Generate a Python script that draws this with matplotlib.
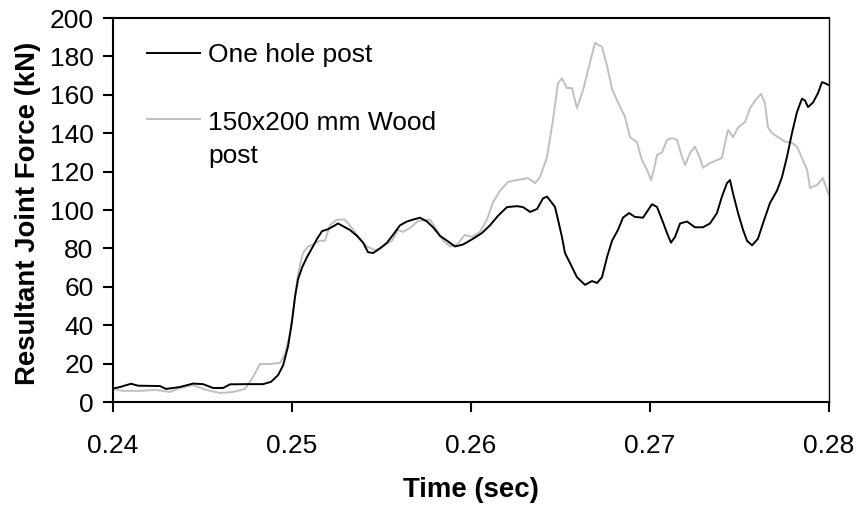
import matplotlib
matplotlib.use("Agg")
import matplotlib.pyplot as plt

plt.rcParams['font.family'] = ['Liberation Sans', 'DejaVu Sans']

# One hole post (black)
t_one = [0.24000, 0.24039, 0.24101, 0.24140, 0.24263, 0.24296, 0.24374, 0.24447, 0.24503, 0.24559,
         0.24615, 0.24654, 0.24743, 0.24838, 0.24883, 0.24922, 0.24950, 0.24978, 0.25000, 0.25017,
         0.25034, 0.25056, 0.25084, 0.25117, 0.25140, 0.25168, 0.25201, 0.25240, 0.25257, 0.25296,
         0.25324, 0.25363, 0.25397, 0.25425, 0.25453, 0.25492, 0.25531, 0.25564, 0.25603, 0.25642,
         0.25676, 0.25715, 0.25754, 0.25788, 0.25827, 0.25866, 0.25911, 0.25955, 0.26011, 0.26061,
         0.26106, 0.26151, 0.26201, 0.26257, 0.26291, 0.26330, 0.26369, 0.26402, 0.26425, 0.26469,
         0.26486, 0.26508, 0.26525, 0.26553, 0.26592, 0.26637, 0.26676, 0.26704, 0.26732, 0.26760,
         0.26788, 0.26821, 0.26849, 0.26883, 0.26916, 0.26961, 0.27011, 0.27039, 0.27067, 0.27095,
         0.27117, 0.27140, 0.27168, 0.27207, 0.27251, 0.27296, 0.27335, 0.27374, 0.27402, 0.27430,
         0.27447, 0.27464, 0.27492, 0.27520, 0.27542, 0.27570, 0.27603, 0.27631, 0.27670, 0.27709,
         0.27737, 0.27765, 0.27793, 0.27821, 0.27849, 0.27866, 0.27883, 0.27911, 0.27939, 0.27961,
         0.27978, 0.28000]
f_one = [7, 7.8, 9.5, 8.5, 8.3, 6.8, 7.8, 9.6, 9.3, 7.3,
         7.3, 9.2, 9.3, 9.3, 10.5, 14, 19, 29, 42, 55,
         64, 70, 75.5, 81, 85, 89, 90, 92, 93, 91,
         89.6, 86.5, 83, 78, 77.6, 80, 83, 87, 92, 94,
         95, 96, 94, 91, 86.5, 84, 81, 82, 85, 88,
         92, 97, 101.5, 102, 101.5, 99, 100.5, 106, 107, 101.6,
         95, 86, 77.6, 72.4, 65, 61, 63, 62, 65, 75.5,
         84, 89.6, 96, 98.4, 96.4, 96, 103, 101.6, 95, 88,
         83, 86, 93, 94, 91, 91, 93, 98.4, 107, 114,
         115.6, 108.6, 98.4, 89.6, 84, 81.6, 85, 93, 103.6, 110,
         117, 127.6, 140, 151, 158, 157, 153.6, 156, 161, 166.6,
         166, 165]

# 150x200 mm Wood post (grey)
t_wood = [0.24000, 0.24056, 0.24151, 0.24240, 0.24318, 0.24374, 0.24447, 0.24520, 0.24598, 0.24670,
          0.24737, 0.24782, 0.24821, 0.24877, 0.24933, 0.24961, 0.24989, 0.25011, 0.25034, 0.25061,
          0.25089, 0.25117, 0.25156, 0.25184, 0.25212, 0.25251, 0.25296, 0.25335, 0.25380, 0.25419,
          0.25464, 0.25508, 0.25559, 0.25592, 0.25620, 0.25659, 0.25704, 0.25771, 0.25810, 0.25844,
          0.25883, 0.25922, 0.25966, 0.26006, 0.26050, 0.26089, 0.26123, 0.26162, 0.26207, 0.26257,
          0.26318, 0.26358, 0.26385, 0.26425, 0.26458, 0.26486, 0.26508, 0.26536, 0.26564, 0.26592,
          0.26626, 0.26665, 0.26693, 0.26732, 0.26760, 0.26788, 0.26821, 0.26860, 0.26888, 0.26927,
          0.26955, 0.26983, 0.27006, 0.27022, 0.27039, 0.27067, 0.27095, 0.27123, 0.27151, 0.27179,
          0.27196, 0.27223, 0.27251, 0.27279, 0.27296, 0.27335, 0.27374, 0.27402, 0.27419, 0.27436,
          0.27464, 0.27492, 0.27531, 0.27559, 0.27587, 0.27620, 0.27642, 0.27659, 0.27682, 0.27715,
          0.27754, 0.27793, 0.27821, 0.27849, 0.27877, 0.27894, 0.27933, 0.27966, 0.27994, 0.28000]
f_wood = [6.8, 5.8, 5.8, 6.3, 5.2, 7.3, 8.8, 6.3, 4.7, 5.2,
          6.8, 13, 19.8, 19.8, 20.4, 25, 36, 50, 67, 77.6,
          81, 82, 84, 84, 92, 95, 95, 90.6, 85, 81,
          79, 81, 84, 89.6, 88.6, 90.6, 94.3, 95, 89.6, 84,
          81, 82, 87, 86, 88.6, 95, 104, 110, 114.6, 115.6,
          116.6, 114, 117, 127.6, 147, 166, 168.6, 163.5, 163.5, 153,
          162.5, 177, 187, 185, 175, 163, 156, 148.6, 138, 135.3,
          126, 121, 115.6, 121, 128.6, 130, 136.5, 137.5, 136.5, 127.6,
          123.4, 129.6, 133, 127, 122, 124.5, 126, 127, 135, 141.7,
          138, 143, 145.8, 153, 157, 160.5, 155.7, 143, 140, 138,
          135.6, 135, 133, 127, 121, 111.5, 113, 116.6, 109, 108]

labels = ["One hole post", "150x200 mm Wood", "post"]
x_ticks = [0.24, 0.25, 0.26, 0.27, 0.28]
y_ticks = list(range(0, 201, 20))

fig = plt.figure(figsize=(8.6, 5.12), dpi=100)
ax = fig.add_axes([113 / 860, 1 - 402 / 512, 716 / 860, 384 / 512])

ax.plot(t_wood, f_wood, color='#c0c0c0', lw=1.4)
ax.plot(t_one, f_one, color='black', lw=1.4)

ax.set_xlim(0.24, 0.28)
ax.set_ylim(0, 200)
ax.set_xticks(x_ticks)
ax.set_xticklabels([str(v) for v in x_ticks])
ax.set_yticks(y_ticks)

ax.tick_params(axis='both', direction='out', length=7, width=1.5, labelsize=19)
ax.tick_params(axis='x', pad=16)
ax.tick_params(axis='y', pad=7)

for s in ['left', 'bottom', 'top']:
    ax.spines[s].set_linewidth(1.5)
ax.spines['right'].set_linewidth(1.0)

ax.set_xlabel("Time (sec)", fontsize=19.8, fontweight='bold')
ax.set_ylabel("Resultant Joint Force (kN)", fontsize=19.8, fontweight='bold')
ax.xaxis.set_label_coords(0.5, -0.195)
ax.yaxis.set_label_coords(-0.1, 0.49)

# legend drawn by hand so the grey handle sits on the first text line
ax.plot([0.0475, 0.1215], [0.909, 0.909], color='black', lw=1.4, transform=ax.transAxes)
ax.plot([0.0475, 0.1215], [0.737, 0.737], color='#c0c0c0', lw=1.4, transform=ax.transAxes)
ax.text(0.1327, 0.909, labels[0], transform=ax.transAxes, fontsize=19, va='center_baseline')
ax.text(0.1327, 0.734, labels[1], transform=ax.transAxes, fontsize=19, va='center_baseline')
ax.text(0.1327, 0.648, labels[2], transform=ax.transAxes, fontsize=19, va='center_baseline')

fig.savefig("out.png", dpi=100)
